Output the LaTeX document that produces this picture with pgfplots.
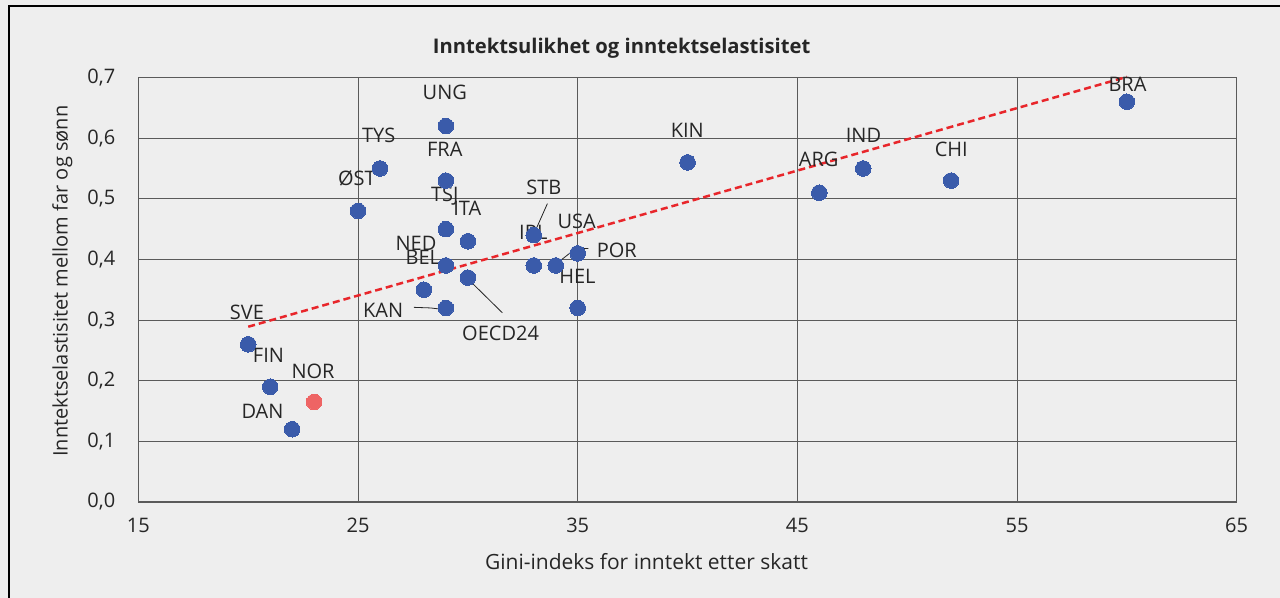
\documentclass[border=0pt]{standalone}
\usepackage{fontspec}
\setmainfont{Open Sans}
\usepackage{pgfplots}
\pgfplotsset{compat=1.18}
\usepackage{pgfplotstable}
\definecolor{bg}{HTML}{EEEEEE}
\definecolor{dot}{HTML}{3A5BAA}
\definecolor{nor}{HTML}{EE6464}
\definecolor{trend}{HTML}{E8262B}
\definecolor{txt}{HTML}{262626}
\definecolor{gridc}{HTML}{5A5A5A}
\tikzset{lbl/.style={text=txt, inner sep=0pt, anchor=center}}

\pgfplotstableread{
x y
20 0.26
21 0.19
22 0.12
25 0.48
26 0.55
29 0.62
29 0.53
29 0.45
30 0.43
29 0.39
30 0.37
28 0.35
29 0.32
33 0.44
33 0.39
34 0.39
35 0.41
35 0.32
40 0.56
46 0.51
48 0.55
52 0.53
60 0.66
}\bluedata
\pgfplotstableread{
x y
23 0.165
}\nordata

\begin{document}
\fontsize{20bp}{24bp}\selectfont
\begin{tikzpicture}[x=1bp,y=1bp]
\fill[bg] (-138.4,-96) rectangle (1141.6,502);
\useasboundingbox (-138.4,-96) rectangle (1141.6,502);
\draw[black, line width=2bp] (-129.4,-100) -- (-129.4,496) -- (1145,496);
\begin{axis}[
  at={(0,0)}, anchor=south west,
  scale only axis, width=1098.3bp, height=424.5bp,
  xmin=15, xmax=65, ymin=0, ymax=0.7,
  xtick={15,25,35,45,55,65},
  ytick={0,0.1,0.2,0.3,0.4,0.5,0.6,0.7},
  yticklabels={{0,0},{0,1},{0,2},{0,3},{0,4},{0,5},{0,6},{0,7}},
  /pgf/number format/assume math mode=true,
  grid=major, major grid style={gridc, line width=1bp},
  axis line style={gridc, line width=1.3bp},
  tick align=inside, major tick length=4bp,
  xtick style={draw=none}, ytick style={gridc, line width=1bp},
  xticklabel style={anchor=center, yshift=-23bp, text=txt, inner sep=0pt},
  yticklabel style={anchor=east, xshift=-23bp, text=txt, inner sep=0pt},
  xlabel={Gini-indeks for inntekt etter skatt},
  xlabel style={at={(axis description cs:0.4626,-0.1406)}, anchor=center, text=txt, inner sep=0pt, font=\fontsize{21bp}{24bp}\selectfont},
  ylabel={Inntektselastisitet mellom far og sønn},
  ylabel style={at={(axis description cs:-0.0691,0.52)}, anchor=center, rotate=0, text=txt, inner sep=0pt},
  axis background/.style={fill=bg},
  clip=false,
]
\addplot[only marks, mark=*, mark size=7.8bp, mark options={fill=dot, draw=dot, line width=0pt}] table {\bluedata};
\addplot[only marks, mark=*, mark size=7.8bp, mark options={fill=nor, draw=nor, line width=0pt}] table {\nordata};
\addplot[trend, line width=2.5bp, dash pattern=on 7bp off 4bp] coordinates {(20,0.289) (60,0.701)};

\draw[txt, line width=0.8bp] (axis cs:33.62,0.492) -- (axis cs:33.08,0.448);
\draw[txt, line width=0.8bp] (axis cs:35.49,0.418) -- (axis cs:34.91,0.418) -- (axis cs:34.0,0.392);
\draw[txt, line width=0.8bp] (axis cs:27.54,0.321) -- (axis cs:28.3,0.320) -- (axis cs:29.0,0.317);
\draw[txt, line width=0.8bp] (axis cs:31.57,0.312) -- (axis cs:29.97,0.369);

\node[lbl] at (axis cs:28.95,0.675) {UNG};
\node[lbl] at (axis cs:25.94,0.605) {TYS};
\node[lbl] at (axis cs:28.95,0.581) {FRA};
\node[lbl] at (axis cs:24.95,0.533) {ØST};
\node[lbl] at (axis cs:28.95,0.504) {TSJ};
\node[lbl] at (axis cs:29.97,0.484) {ITA};
\node[lbl] at (axis cs:33.46,0.519) {STB};
\node[lbl] at (axis cs:32.98,0.445) {IRL};
\node[lbl] at (axis cs:34.95,0.463) {USA};
\node[lbl] at (axis cs:36.78,0.415) {POR};
\node[lbl] at (axis cs:27.64,0.427) {NED};
\node[lbl] at (axis cs:27.95,0.404) {BEL};
\node[lbl] at (axis cs:34.99,0.372) {HEL};
\node[lbl] at (axis cs:26.14,0.316) {KAN};
\node[lbl] at (axis cs:31.49,0.278) {OECD24};
\node[lbl] at (axis cs:19.94,0.312) {SVE};
\node[lbl] at (axis cs:20.92,0.242) {FIN};
\node[lbl] at (axis cs:22.95,0.216) {NOR};
\node[lbl] at (axis cs:20.65,0.150) {DAN};
\node[lbl] at (axis cs:39.99,0.613) {KIN};
\node[lbl] at (axis cs:48.01,0.605) {IND};
\node[lbl] at (axis cs:45.97,0.565) {ARG};
\node[lbl] at (axis cs:52.01,0.581) {CHI};
\node[lbl] at (axis cs:60.03,0.689) {BRA};
\node[text=txt, inner sep=0pt, anchor=center, font=\bfseries\fontsize{20.2bp}{24bp}\selectfont] at (rel axis cs:0.440,1.0695) {Inntektsulikhet og inntektselastisitet};
\end{axis}
\end{tikzpicture}
\end{document}
